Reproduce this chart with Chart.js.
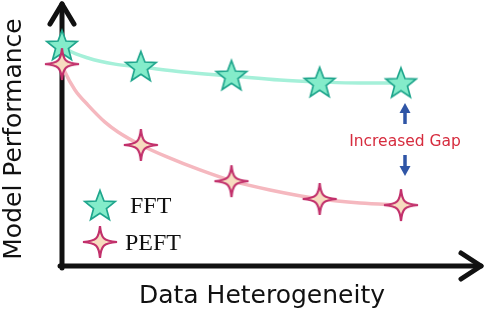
<!DOCTYPE html>
<html>
<head>
<meta charset="utf-8">
<script src="https://cdn.jsdelivr.net/npm/chart.js@4.4.1/dist/chart.umd.min.js"></script>
<style>
  html, body { margin: 0; padding: 0; background: #ffffff; }
  #wrap { width: 486px; height: 314px; position: relative; }
</style>
</head>
<body>
<div id="wrap"><canvas id="c" width="486" height="314"></canvas></div>
<script>
// ---- data ----
// markers
const heterogeneity = [0, 0.93, 2, 3.04, 4];
const fftPerformance = [83.1, 75.2, 71.8, 69.2, 69.0];
const peftPerformance = [75.9, 45.5, 31.9, 25.2, 22.9];
// smooth trend curves
const fftCurveX = [0, 0.071, 0.307, 0.625, 0.93, 1.428, 2.006, 2.572, 3.044, 3.516, 4];
const fftCurveY = [83.1, 81.2, 78.2, 75.9, 74.8, 72.9, 71.4, 69.9, 69.2, 68.8, 68.8];
const peftCurveX = [0, 0.035, 0.153, 0.307, 0.507, 0.661, 0.93, 1.239, 1.628, 2.006, 2.454, 3.044, 3.516, 4];
const peftCurveY = [75.9, 72.9, 66.2, 60.5, 54.1, 50.4, 45.5, 41.0, 36.1, 32.0, 28.6, 25.2, 23.7, 22.9];
const seriesLabels = ['FFT', 'PEFT'];
const xTitle = 'Data Heterogeneity';
const yTitle = 'Model Performance';
const gapLabel = 'Increased Gap';

// ---- marker images ----
function starCanvas() {
  const s = 36, c = document.createElement('canvas');
  c.width = s; c.height = s;
  const g = c.getContext('2d');
  const cx = s / 2, cy = s / 2 + 1.5, R = 16, r = 6.8;
  g.beginPath();
  for (let i = 0; i < 10; i++) {
    const a = -Math.PI / 2 + i * Math.PI / 5;
    const rad = i % 2 === 0 ? R : r;
    const x = cx + rad * Math.cos(a), y = cy + rad * Math.sin(a);
    i === 0 ? g.moveTo(x, y) : g.lineTo(x, y);
  }
  g.closePath();
  g.fillStyle = '#84ecca';
  g.fill();
  g.lineWidth = 1.7;
  g.lineJoin = 'miter';
  g.strokeStyle = '#1ea58c';
  g.stroke();
  return c;
}
function sparkleCanvas() {
  const w = 38, h = 36, c = document.createElement('canvas');
  c.width = w; c.height = h;
  const g = c.getContext('2d');
  const cx = w / 2, cy = h / 2, rx = 17, ry = 16;
  const a = 1.2, b = 3.4;
  g.beginPath();
  g.moveTo(cx, cy - ry);
  g.bezierCurveTo(cx + a, cy - b, cx + b, cy - a, cx + rx, cy);
  g.bezierCurveTo(cx + b, cy + a, cx + a, cy + b, cx, cy + ry);
  g.bezierCurveTo(cx - a, cy + b, cx - b, cy + a, cx - rx, cy);
  g.bezierCurveTo(cx - b, cy - a, cx - a, cy - b, cx, cy - ry);
  g.closePath();
  g.fillStyle = '#f7dcc0';
  g.fill();
  g.lineWidth = 2.2;
  g.lineJoin = 'miter';
  g.strokeStyle = '#c2306b';
  g.stroke();
  return c;
}
const starImg = starCanvas();
const sparkImg = sparkleCanvas();

const comic = '"DejaVu Sans", sans-serif';

const decorPlugin = {
  id: 'decor',
  beforeDatasetsDraw(chart) {
    const ctx = chart.ctx;
    const xs = chart.scales.x, ys = chart.scales.y;
    const x0 = xs.getPixelForValue(0);
    const y0 = ys.getPixelForValue(0);
    ctx.save();
    ctx.strokeStyle = '#111111';
    ctx.lineWidth = 5;
    ctx.lineCap = 'round';
    ctx.lineJoin = 'round';
    // y axis
    ctx.beginPath();
    ctx.moveTo(x0, y0 + 2);
    ctx.lineTo(x0, 4);
    ctx.stroke();
    ctx.beginPath();
    ctx.moveTo(x0 - 12, 24);
    ctx.lineTo(x0, 4);
    ctx.lineTo(x0 + 12, 24);
    ctx.stroke();
    // x axis
    ctx.beginPath();
    ctx.moveTo(x0 - 2, y0);
    ctx.lineTo(481, y0);
    ctx.stroke();
    ctx.beginPath();
    ctx.moveTo(461, y0 - 13);
    ctx.lineTo(481, y0);
    ctx.lineTo(461, y0 + 13);
    ctx.stroke();
    ctx.restore();
  },
  afterDatasetsDraw(chart) {
    const ctx = chart.ctx;
    ctx.save();
    // axis titles
    ctx.fillStyle = '#111111';
    ctx.font = '25px ' + comic;
    ctx.textAlign = 'center';
    ctx.textBaseline = 'middle';
    ctx.fillText(xTitle, 262, 296);
    ctx.save();
    ctx.translate(14, 139);
    ctx.rotate(-Math.PI / 2);
    ctx.fillText(yTitle, 0, 0);
    ctx.restore();

    // gap annotation
    const gx = chart.scales.x.getPixelForValue(heterogeneity[heterogeneity.length - 1]) + 4;
    ctx.fillStyle = '#d62c3e';
    ctx.font = '15.5px ' + comic;
    ctx.fillText(gapLabel, gx, 142);
    ctx.fillStyle = '#2f55a6';
    ctx.strokeStyle = '#2f55a6';
    ctx.lineWidth = 3.5;
    ctx.lineCap = 'butt';
    ctx.beginPath(); ctx.moveTo(gx, 124); ctx.lineTo(gx, 111); ctx.stroke();
    ctx.beginPath(); ctx.moveTo(gx, 103); ctx.lineTo(gx - 5.5, 113); ctx.lineTo(gx + 5.5, 113); ctx.closePath(); ctx.fill();
    ctx.beginPath(); ctx.moveTo(gx, 155); ctx.lineTo(gx, 168); ctx.stroke();
    ctx.beginPath(); ctx.moveTo(gx, 176); ctx.lineTo(gx - 5.5, 166); ctx.lineTo(gx + 5.5, 166); ctx.closePath(); ctx.fill();

    // legend
    const imgs = [starImg, sparkImg];
    const ly = [205, 242];
    const lx = [130, 125];
    ctx.font = '24px "Liberation Serif", "Times New Roman", serif';
    ctx.fillStyle = '#111111';
    ctx.textAlign = 'left';
    ctx.textBaseline = 'alphabetic';
    seriesLabels.forEach((lab, i) => {
      const im = imgs[i];
      ctx.drawImage(im, 100 - im.width / 2, ly[i] - im.height / 2);
      ctx.fillText(lab, lx[i], ly[i] + 8);
    });
    ctx.restore();
  }
};

const mk = (xv, yv) => xv.map((x, i) => ({ x: x, y: yv[i] }));

new Chart(document.getElementById('c'), {
  type: 'line',
  data: {
    datasets: [
      {
        label: seriesLabels[0] + ' trend',
        data: mk(fftCurveX, fftCurveY),
        borderColor: '#a5f0d9',
        borderWidth: 3.5,
        cubicInterpolationMode: 'monotone',
        pointRadius: 0,
        clip: false,
        order: 4
      },
      {
        label: seriesLabels[1] + ' trend',
        data: mk(peftCurveX, peftCurveY),
        borderColor: '#f5b8bf',
        borderWidth: 3.5,
        cubicInterpolationMode: 'monotone',
        pointRadius: 0,
        clip: false,
        order: 3
      },
      {
        label: seriesLabels[0],
        data: mk(heterogeneity, fftPerformance),
        showLine: false,
        pointStyle: starImg,
        pointRadius: 12,
        clip: false,
        order: 2
      },
      {
        label: seriesLabels[1],
        data: mk(heterogeneity, peftPerformance),
        showLine: false,
        pointStyle: sparkImg,
        pointRadius: 12,
        clip: false,
        order: 1
      }
    ]
  },
  options: {
    responsive: false,
    animation: false,
    events: [],
    layout: { autoPadding: false, padding: { left: 62, right: 85, top: 0, bottom: 48 } },
    plugins: { legend: { display: false }, tooltip: { enabled: false } },
    scales: {
      x: { type: 'linear', min: 0, max: 4, display: false },
      y: { type: 'linear', min: 0, max: 100, display: false }
    }
  },
  plugins: [decorPlugin]
});
</script>
</body>
</html>
